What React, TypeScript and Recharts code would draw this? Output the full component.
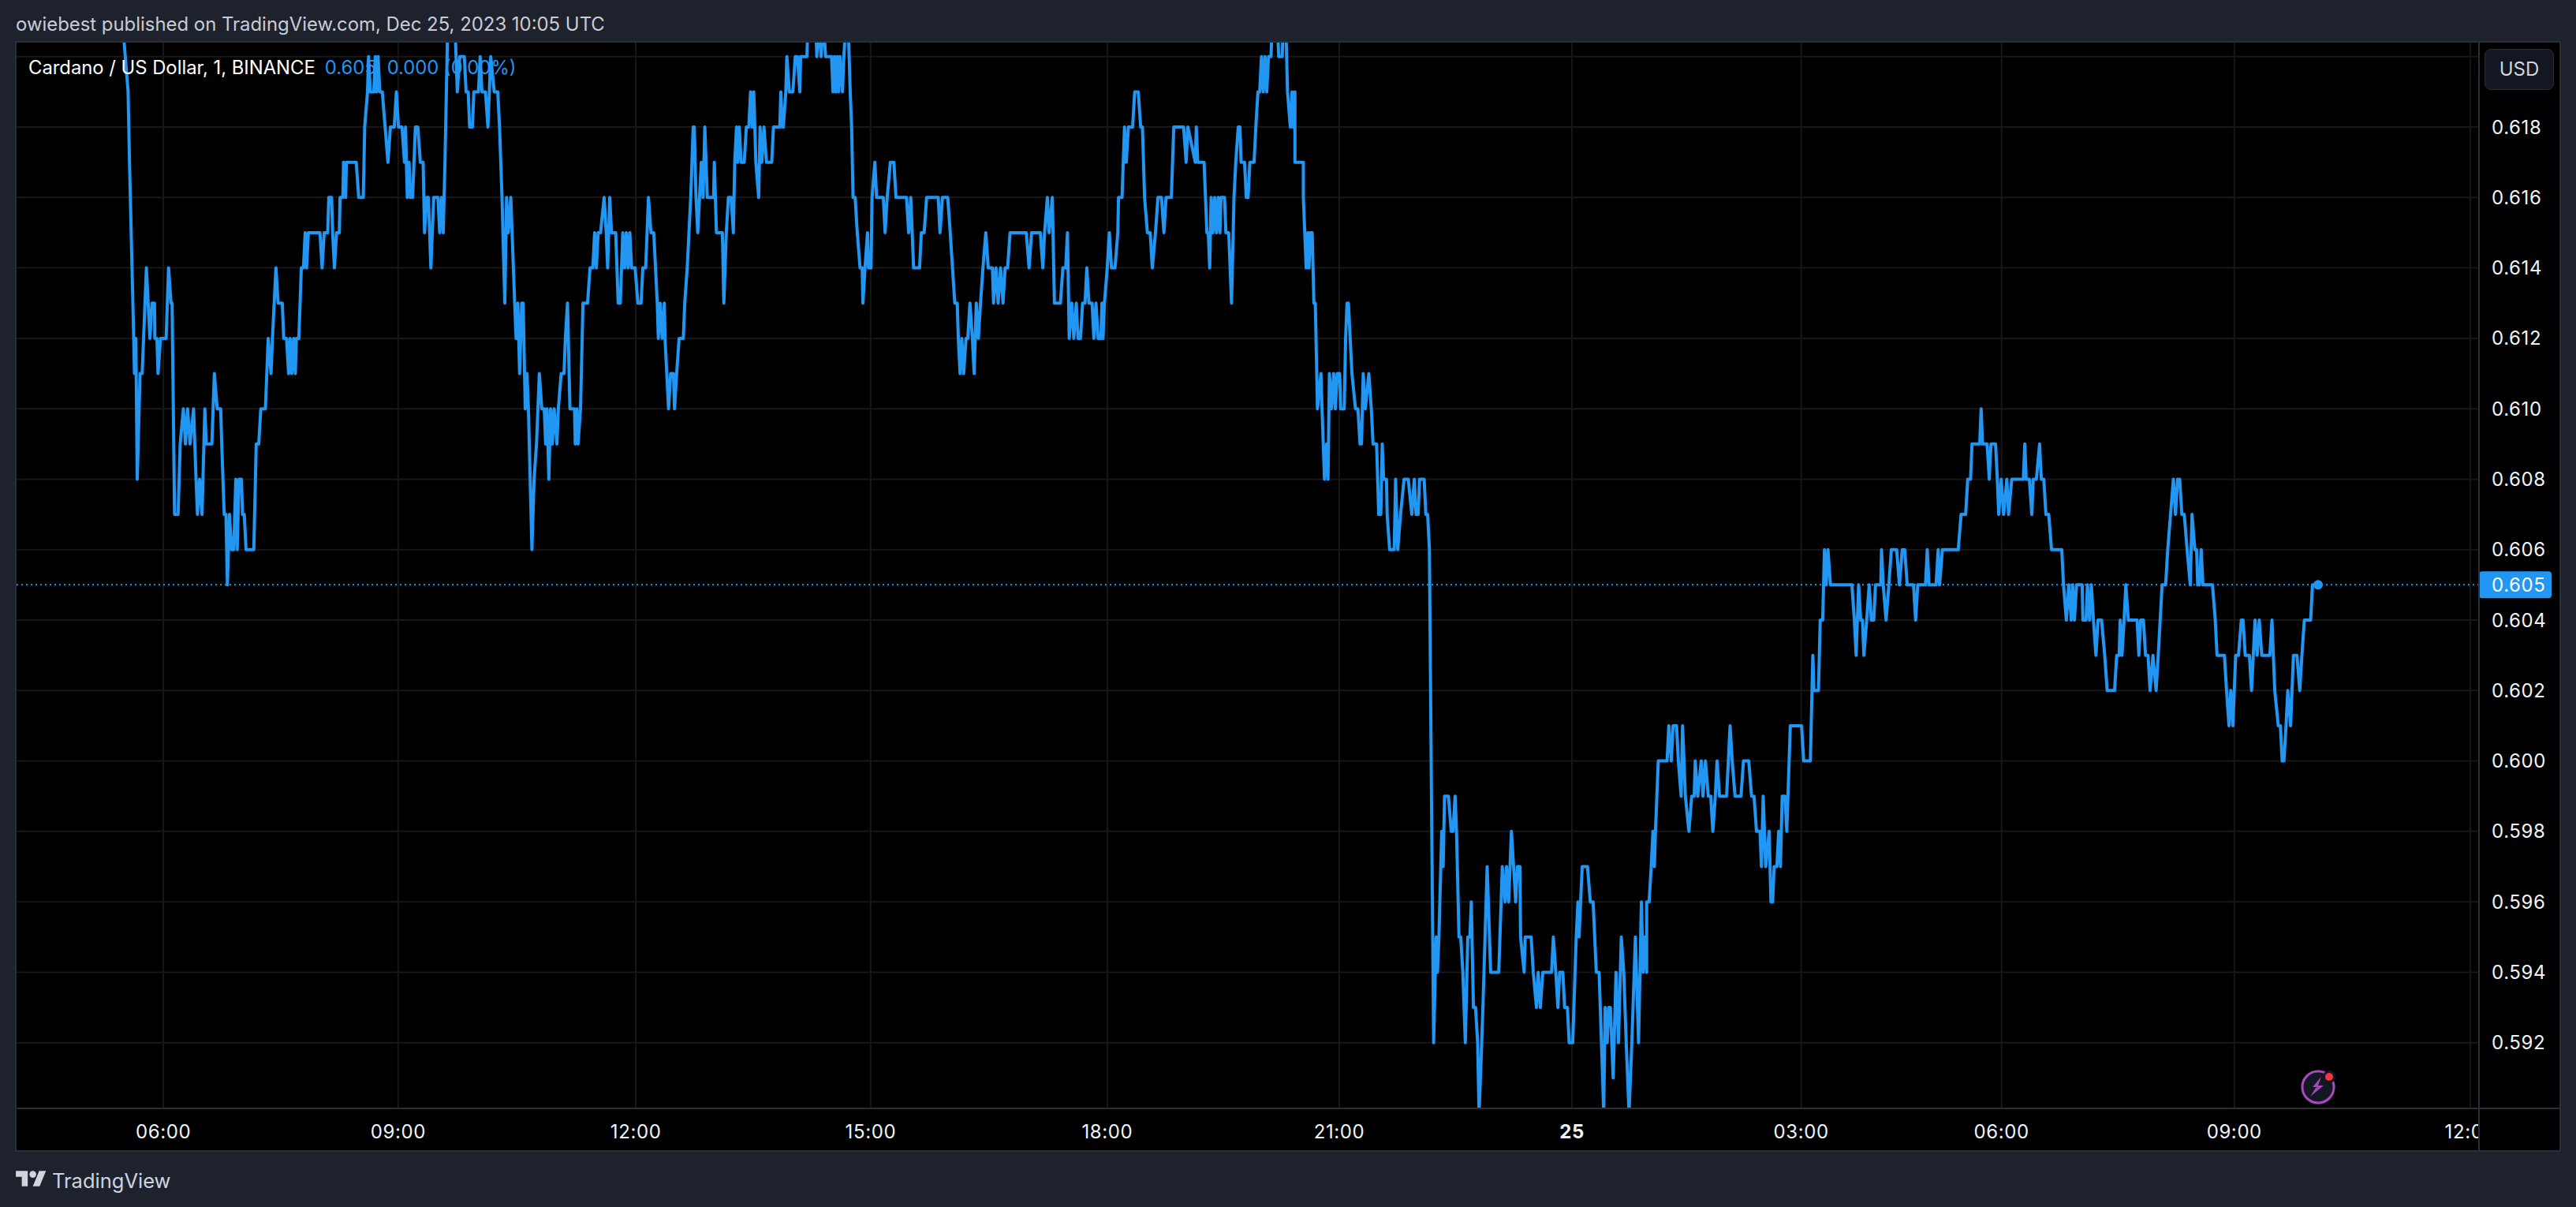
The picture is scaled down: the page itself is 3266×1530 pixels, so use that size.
import React from "react";
import {
  LineChart,
  Line,
  XAxis,
  YAxis,
  CartesianGrid,
  ReferenceLine,
  ReferenceDot,
} from "recharts";

// time unit on the x axis is a sampled step of roughly 16 seconds, prices are in thousandths
const sessionStarts = [269, 1792, 3315, 3942, 4973];

const morningLeg = [
  [34,621],[50,619],[54,617],[66,612],[68,611],[72,612],[76,608],[84,611],[90,611],[102,614],[112,612],[118,613],[125,613],[126,612],[132,612],[135,611],[142,612],[158,612],[165,614],[172,613],[175,613],[182,607],[192,607],[198,609],[207,610],[213,609],[219,610],[226,609],[236,610],[243,608],[247,607],[253,608],[260,607],[268,610],[272,609],[288,609],[295,611],[303,610],[313,610],[316,609],[323,607],[328,607],[332,605],[338,607],[344,606],[350,606],[356,608],[360,606],[365,608],[372,608],[375,607],[380,607],[385,606],[407,606],[414,609],[421,609],[427,610],[440,610],[448,612],[456,611],[460,612],[470,614],[476,613],[488,613],[492,612],[500,612],[506,611],[510,612],[515,611],[520,612],[525,611],[528,612],[535,612],[542,614],[548,614],[553,615],[557,614],[562,615],[595,615],[601,614],[607,615],[617,615],[620,616],[628,616],[631,615],[636,614],[642,615],[650,615],[652,616],[660,616],[662,617],[668,616],[670,617],[698,617],[705,616],[718,616],[722,618],[730,619],[733,620],[738,619],[748,619],[752,620],[756,619],[760,620],[765,619],[772,619],[780,618],[788,617],[795,618],[806,618],[812,619],[818,618],[828,618],[835,617],[838,618],[843,616],[848,617],[852,616],[858,616],[866,618],[873,618],[880,617],[888,617],[892,615],[898,616],[903,616],[910,614],[918,616],[930,616],[935,615],[940,616],[945,615],[950,617],[958,621],[978,621],[985,619],[992,620],[1005,620],[1010,619],[1016,619],[1020,618],[1028,618],[1032,619],[1045,619],[1050,620],[1055,619],[1065,619],[1072,618],[1080,620],[1090,619],[1100,619],[1105,618],[1112,616],[1120,613],[1125,616],[1130,615],[1137,616],[1148,613],[1152,612],[1157,613],[1162,611],[1168,613],[1172,613],[1178,610],[1183,611],[1187,610],[1192,608],[1197,606],[1203,608],[1210,609],[1218,611],[1225,610],[1232,610],[1236,609],[1240,610],[1245,608],[1250,610],[1255,609],[1260,610],[1268,609],[1272,610],[1280,611],[1288,611],[1292,612],[1298,613],[1305,610],[1318,610],[1320,609],[1325,610],[1328,609],[1335,610],[1342,613],[1355,613],[1362,614],[1370,614],[1375,615],[1380,614],[1385,615],[1392,615],[1402,616],[1408,615],[1412,614],[1418,616],[1423,615],[1435,615],[1442,613],[1448,613],[1455,615],[1460,614],[1465,615],[1470,614],[1475,615],[1480,614],[1490,614],[1498,613],[1507,613],[1512,614],[1520,614],[1528,616],[1535,615],[1543,615],
];

const noonLeg = [
  [30,613],[33,612],[38,613],[44,612],[50,613],[52,612],[62,610],[68,611],[76,611],[79,610],[85,611],[92,612],[104,612],[108,613],[115,614],[125,616],[132,618],[135,618],[140,616],[145,615],[150,616],[155,617],[160,616],[165,618],[172,616],[190,616],[192,617],[198,615],[215,615],[219,613],[226,615],[232,616],[240,616],[246,615],[250,617],[255,618],[258,617],[263,618],[268,617],[277,617],[283,618],[290,618],[295,619],[300,618],[304,619],[310,617],[318,616],[322,618],[327,617],[333,618],[340,617],[355,617],[360,618],[378,618],[381,619],[385,618],[388,618],[395,619],[398,620],[405,619],[415,619],[422,620],[428,620],[435,619],[437,620],[455,620],[458,621],[480,621],[483,620],[490,621],[495,620],[502,621],[508,620],[525,620],[529,619],[533,620],[537,619],[541,620],[545,619],[549,620],[556,619],[560,620],[566,621],[572,621],[575,620],[578,619],[582,618],[586,616],[592,616],[598,615],[606,614],[612,614],[614,613],[620,614],[627,615],[630,614],[637,614],[640,616],[648,617],[653,616],[672,616],[677,615],[683,616],[692,617],[702,617],[708,616],[738,616],[744,615],[750,616],[758,614],[775,614],[780,615],[788,615],[795,616],[828,616],[833,615],[840,616],[855,616],[862,615],[875,613],[882,613],[885,612],[890,611],[895,612],[900,611],[907,612],[912,612],[918,613],[925,612],[930,611],[936,613],[942,612],[948,613],[955,614],[963,615],[970,614],[982,614],[985,613],[992,614],[998,613],[1005,614],[1012,613],[1018,614],[1025,614],[1032,615],[1078,615],[1086,614],[1093,615],[1118,615],[1125,614],[1130,615],[1138,616],[1143,615],[1152,616],[1158,613],[1175,613],[1182,614],[1190,614],[1195,615],[1200,612],[1207,613],[1213,612],[1220,613],[1225,612],[1232,612],[1238,613],[1245,613],[1250,614],[1256,613],[1265,613],[1270,612],[1276,613],[1282,612],[1290,612],[1293,613],[1296,612],[1300,613],[1308,614],[1314,615],[1320,614],[1330,614],[1338,615],[1340,616],[1350,616],[1357,618],[1362,617],[1368,618],[1380,618],[1386,619],[1396,619],[1403,618],[1408,618],[1414,616],[1422,615],[1430,615],[1436,614],[1445,615],[1452,616],[1462,616],[1469,615],[1475,616],[1490,616],[1497,618],[1525,618],[1532,617],[1537,618],
];

const eveningLeg = [
  [35,617],[38,618],[42,617],[60,617],[68,615],[72,615],[76,614],[80,616],[85,615],[90,616],[95,615],[100,616],[105,615],[108,616],[118,616],[122,615],[130,615],[138,613],[145,616],[150,617],[157,618],[162,618],[165,617],[175,617],[180,616],[185,616],[190,617],[202,617],[207,618],[213,619],[218,619],[223,620],[228,619],[233,620],[238,619],[243,620],[250,620],[254,621],[268,621],[272,620],[282,620],[285,621],[292,621],[297,619],[305,618],[310,619],[312,618],[318,619],[318,617],[342,617],[342,616],[350,614],[355,615],[358,614],[362,615],[367,615],[372,613],[376,613],[382,610],[392,611],[395,610],[402,608],[408,609],[412,608],[416,611],[422,610],[428,611],[433,610],[438,611],[445,611],[448,610],[458,610],[462,612],[466,613],[470,613],[480,611],[490,610],[497,610],[503,609],[507,609],[512,611],[518,610],[528,611],[535,610],[540,609],[550,609],[556,607],[562,607],[566,609],[570,608],[578,608],[580,607],[587,606],[600,606],[604,608],[610,606],[618,607],[628,608],[640,608],[650,607],[657,608],[662,607],[668,607],[672,608],[685,608],[690,607],[695,607],
];

const overnightLeg = [
  [73,606],[78,600],[85,592],[92,595],[96,594],[100,595],[108,598],[112,597],[116,599],[127,599],[135,598],[140,598],[146,599],[150,598],[157,595],[162,595],[168,594],[175,592],[182,595],[188,595],[192,596],[198,593],[204,593],[210,592],[214,590],[218,591],[225,593],[237,597],[247,594],[270,594],[280,597],[288,596],[292,597],[298,596],[306,598],[312,597],[318,596],[323,597],[330,597],[332,595],[342,594],[345,595],[362,595],[368,594],[377,593],[382,594],[388,593],[395,594],[420,594],[425,595],[432,594],[438,593],[443,594],[452,594],[457,593],[465,593],[470,592],[480,592],[490,595],[495,596],[498,595],[507,597],[522,597],[530,596],[538,596],[547,594],[555,594],[565,591],[568,590],[572,593],[578,592],[582,593],[587,593],[595,591],[603,594],[610,592],[618,595],[625,594],[632,592],[640,590],[648,592],[658,595],[667,592],[675,596],[680,594],[685,595],[690,594],[690,596],[697,596],[703,597],[708,598],[712,597],[715,598],[723,600],[748,600],[753,601],[760,600],[765,601],[775,601],[780,600],[788,599],[792,601],[800,599],[810,598],[818,599],[825,599],[828,600],[835,599],[845,600],[850,599],[857,600],[865,599],[872,599],[878,598],[885,599],[890,600],[897,599],[917,599],[922,600],[927,601],[933,600],[941,599],[958,599],[965,600],[980,600],[988,599],[995,599],[1002,598],[1012,598],[1016,597],[1021,599],[1028,597],[1038,598],[1043,596],[1048,596],[1052,597],[1060,597],[1065,598],[1070,597],[1075,599],[1083,599],[1088,598],[1098,601],[1130,601],[1136,600],[1155,600],[1162,603],[1165,602],[1178,602],[1183,604],[1190,604],[1195,606],[1200,605],[1205,606],[1212,605],[1273,605],[1280,604],[1285,603],[1292,605],[1298,604],[1303,604],[1307,603],[1315,604],[1322,605],[1328,604],[1335,604],[1340,605],[1355,605],[1357,606],[1362,605],[1370,604],[1378,605],[1385,606],[1400,606],[1408,605],[1416,606],[1423,606],[1430,605],[1448,605],[1454,604],[1460,605],[1482,605],[1487,606],[1492,605],[1512,605],[1518,606],[1522,605],[1530,606],[1545,606],
];

const lateLeg = [
  [544,606],[552,607],[565,607],[571,608],[579,608],[583,609],[605,609],[609,610],[613,609],[626,609],[632,608],[637,609],[650,609],[655,608],[659,607],[666,608],[673,607],[682,608],[687,607],[696,608],[729,608],[733,609],[737,608],[746,608],[753,607],[757,608],[766,608],[775,609],[780,608],[787,608],[793,607],[801,607],[809,606],[838,606],[843,605],[851,604],[858,605],[865,604],[869,605],[874,604],[880,605],[896,605],[898,604],[907,604],[911,605],[917,604],[922,605],[928,604],[935,603],[941,604],[951,604],[960,603],[967,602],[988,602],[994,603],[1001,603],[1004,604],[1009,603],[1015,604],[1020,605],[1027,604],[1052,604],[1057,603],[1062,604],[1070,604],[1076,603],[1083,603],[1089,602],[1097,603],[1106,602],[1112,603],[1123,605],[1133,605],[1139,606],[1147,607],[1155,608],[1161,607],[1167,608],[1173,608],[1179,607],[1186,607],[1194,606],[1203,605],[1208,607],[1216,606],[1221,606],[1224,605],[1229,605],[1234,606],[1239,605],[1266,605],[1274,604],[1279,603],[1300,603],[1306,602],[1313,601],[1318,602],[1324,601],[1332,603],[1340,603],[1348,604],[1353,604],[1359,603],[1371,603],[1377,602],[1387,604],[1393,603],[1399,604],[1406,603],[1429,603],[1435,604],[1443,602],[1453,601],[1459,601],[1464,600],[1469,600],[1475,601],[1480,602],[1488,601],[1496,603],[1506,603],[1514,602],[1520,603],[1527,604],[1545,604],[1550,605],[1566,605],
];

const legs = [morningLeg, noonLeg, eveningLeg, overnightLeg, lateLeg];

const timeTicks = [419, 1086, 1761, 2428, 3100, 3759, 4420, 5071, 5640, 6301, 6971];
const timeLabels = ["06:00", "09:00", "12:00", "15:00", "18:00", "21:00", "25", "03:00", "06:00", "09:00", "12:00"];
const priceTicks = [0.592, 0.594, 0.596, 0.598, 0.6, 0.602, 0.604, 0.606, 0.608, 0.61, 0.612, 0.614, 0.616, 0.618, 0.62];
const lastPrice = 0.605;

const rows = legs.flatMap((leg, i) =>
  leg.map(([t, p]) => ({ t: sessionStarts[i] + t, price: p / 1000 }))
);
const lastRow = rows[rows.length - 1];

const BLUE = "#2196f3";
const PANEL = "#1e222d";
const EDGE = "#2a2e39";
const FONT = "Inter, sans-serif";

function TimeTick({ x, y, payload, index }: any) {
  const label = timeLabels[index] ?? timeLabels[timeTicks.indexOf(payload.value)];
  return (
    <text
      x={x}
      y={y + 36}
      textAnchor="middle"
      fill="#f0f3fa"
      fontSize={24}
      fontFamily={FONT}
      letterSpacing={0.6}
      fontWeight={label === "25" ? 700 : 400}
    >
      {label}
    </text>
  );
}

function LastPriceTag({ viewBox }: any) {
  const right = viewBox.x + viewBox.width;
  const y = viewBox.y;
  return (
    <g>
      <rect x={right} y={y - 17} width={92} height={34} rx={4} fill={BLUE} />
      <text x={right + 16} y={y + 9} fill="#fff" fontSize={24} fontFamily={FONT} letterSpacing={0.6}>
        {lastPrice.toFixed(3)}
      </text>
    </g>
  );
}

export default function App() {
  return (
    <div
      style={{
        position: "absolute",
        left: 0,
        top: 0,
        width: 3266,
        height: 1530,
        background: PANEL,
        fontFamily: FONT,
        overflow: "hidden",
      }}
    >
      <div style={{ position: "absolute", left: 20, top: 16, fontSize: 23.9, color: "#c9ccd6", whiteSpace: "nowrap" }}>
        owiebest published on TradingView.com, Dec 25, 2023 10:05 UTC
      </div>

      <div style={{ position: "absolute", left: 20, top: 53, width: 3226, height: 1406, background: "#000" }}>
        <LineChart
          width={3226}
          height={1406}
          data={rows}
          margin={{ top: 0, right: 0, bottom: 0, left: 0 }}
        >
          <CartesianGrid stroke="#171717" strokeWidth={2} syncWithTicks />
          <XAxis
            dataKey="t"
            type="number"
            domain={[0, 6996]}
            ticks={timeTicks}
            height={54}
            allowDataOverflow
            interval={0}
            tickLine={false}
            tickSize={0}
            axisLine={{ stroke: EDGE, strokeWidth: 2 }}
            tick={<TimeTick />}
          />
          <YAxis
            orientation="right"
            type="number"
            domain={[0.590134, 0.62042]}
            ticks={priceTicks}
            width={103}
            allowDataOverflow
            interval={0}
            tickLine={false}
            tickSize={0}
            tickMargin={16}
            axisLine={{ stroke: EDGE, strokeWidth: 2 }}
            tick={{ fill: "#f0f3fa", fontSize: 24, fontFamily: FONT, letterSpacing: 0.6, textAnchor: "start" }}
            tickFormatter={(v: number) => (v === 0.62 ? "" : v.toFixed(3))}
          />
          <Line
            dataKey="price"
            stroke={BLUE}
            strokeWidth={4}
            dot={false}
            type="linear"
            strokeLinejoin="round"
            isAnimationActive={false}
          />
          <ReferenceLine
            y={lastPrice}
            stroke={BLUE}
            strokeWidth={2}
            strokeDasharray="2 4"
            label={<LastPriceTag />}
          />
          <ReferenceDot x={lastRow.t} y={lastRow.price} r={6} fill={BLUE} stroke="none" />
        </LineChart>
      </div>

      {/* legend over the plot */}
      <div style={{ position: "absolute", left: 36, top: 71, fontSize: 23.8, whiteSpace: "nowrap", color: "#fff" }}>
        Cardano / US Dollar, 1, BINANCE
        <span style={{ color: BLUE, marginLeft: 12 }}>0.605</span>
        <span style={{ color: BLUE, marginLeft: 14 }}>0.000 (0.00%)</span>
      </div>

      {/* USD button */}
      <div
        style={{
          position: "absolute",
          left: 3150,
          top: 62,
          width: 88,
          height: 52,
          boxSizing: "border-box",
          borderRadius: 8,
          border: `1px solid ${EDGE}`,
          background: "#131722",
          color: "#d1d4dc",
          fontSize: 24,
          lineHeight: "50px",
          textAlign: "center",
        }}
      >
        USD
      </div>

      {/* chart frame and scale corner */}
      <div style={{ position: "absolute", left: 3144, top: 1406, width: 102, height: 53, background: "#000" }} />
      <div style={{ position: "absolute", left: 3142, top: 1405, width: 2, height: 54, background: EDGE }} />
      <div style={{ position: "absolute", left: 3144, top: 1404, width: 102, height: 2, background: EDGE }} />
      <div
        style={{
          position: "absolute",
          left: 19,
          top: 52,
          width: 3228,
          height: 1408,
          boxSizing: "border-box",
          border: `2px solid ${EDGE}`,
        }}
      />

      {/* bolt badge */}
      <svg style={{ position: "absolute", left: 2910, top: 1350 }} width={60} height={60}>
        <circle cx={29} cy={28} r={22} fill="#131722" />
        <circle cx={29} cy={28} r={20} fill="#131722" stroke="#ab47bc" strokeWidth={3} />
        <path d="M33 15 L22 28 L29 28 L26 29 L19 40 L36 26 L29 26 Z" fill="#ab47bc" />
        <circle cx={43} cy={15} r={8} fill="#131722" />
        <circle cx={43} cy={15} r={5} fill="#f23645" />
      </svg>

      {/* wordmark */}
      <svg style={{ position: "absolute", left: 20, top: 1480 }} width={40} height={28} viewBox="0 0 37 26">
        <path d="M14 22H7V11H0V4h14v18zM28 22h-8l7.5-18h8L28 22z" fill="#d1d4dc" />
        <circle cx={20} cy={8} r={4} fill="#d1d4dc" />
      </svg>
      <div style={{ position: "absolute", left: 66, top: 1481, fontSize: 25.5, color: "#d1d4dc", whiteSpace: "nowrap" }}>
        TradingView
      </div>
    </div>
  );
}
